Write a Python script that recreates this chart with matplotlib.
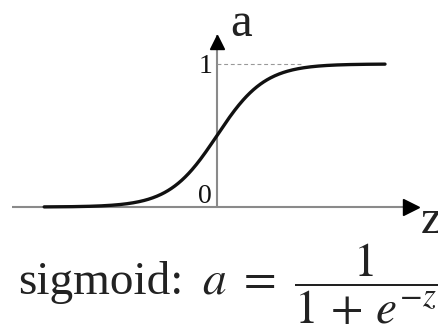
import numpy as np
import matplotlib.pyplot as plt
from matplotlib.transforms import Affine2D

plt.rcParams['mathtext.fontset'] = 'stix'

W, H = 438, 324

# the sigmoid a = 1 / (1 + e^-z) over the drawn part of the z axis
z = np.linspace(-7.2, 7.0, 400)
a = 1 / (1 + np.exp(-z))

z_axis = [-8.54, 8.375]   # horizontal axis extent (arrow tip on the right)
a_axis = [0, 1.203]       # vertical axis extent (arrow tip on top)
a_ticks = [0, 1]
tick_labels = ['0', '1']
guide_end = 3.5           # where the dashed a=1 guide stops

fig = plt.figure(figsize=(W / 100, H / 100), dpi=100)
ax = fig.add_axes([0, 0, 1, 1])
# 24 px per z unit, 143 px per a unit, origin at pixel (217, 207)
ax.set_xlim(-217 / 24, (W - 217) / 24)
ax.set_ylim((207 - H) / 143, 207 / 143)
ax.axis('off')

axis_col = '#8a8a8a'
ax.plot(z_axis, [0, 0], color=axis_col, lw=1.5, solid_capstyle='butt', zorder=1)
ax.plot([0, 0], a_axis, color=axis_col, lw=1.5, solid_capstyle='butt', zorder=1)

# arrow heads, marker centred half a head-length behind the tip
head = 7 / 24
ax.plot(z_axis[1] - head, 0, marker='>', ms=11, color='black', mec='black', zorder=3)
ax.plot(0, a_axis[1] - 7 / 143, marker='^', ms=10, color='black', mec='black', zorder=3)

ax.plot([0, guide_end], [1, 1], color='#999999', lw=0.8, ls=(0, (3.5, 2.5)), zorder=1)

ax.plot(z, a, color='#111111', lw=2.4, solid_capstyle='round', zorder=2)

# "0" sits just above the z axis, "1" is centred on the dashed guide
ax.text(-0.2, a_ticks[0] + 0.028, tick_labels[0], ha='right', va='baseline',
        fontsize=20, family='Liberation Serif', color='#111111')
ax.text(-0.2, a_ticks[1] - 0.02, tick_labels[1], ha='right', va='center',
        fontsize=20, family='Liberation Serif', color='#111111')

ax.text(0.55, 1.195, 'a', ha='left', va='baseline', fontsize=35,
        family='Liberation Serif', color='#222222')
ax.text(8.5, -0.18, 'z', ha='left', va='baseline', fontsize=35,
        family='Liberation Serif', color='#222222')

# formula below the plot, placed in pixel coordinates from the top-left
px = Affine2D().scale(1, -1).translate(0, H)
fig.text(18, 294, 'sigmoid:', transform=px, ha='left', va='baseline',
         fontsize=34, family='Liberation Serif', color='#222222')
fig.text(202, 294, r'$a\ =\ \dfrac{1}{1\,+\,e^{-z}}$', transform=px, ha='left',
         va='baseline', fontsize=34, color='#222222')

fig.savefig('out.png', dpi=100, facecolor='white')
